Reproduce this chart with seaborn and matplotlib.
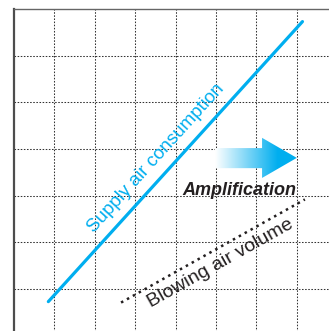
import numpy as np
import matplotlib
matplotlib.use("Agg")
import matplotlib.pyplot as plt
from matplotlib.patches import Polygon
from matplotlib.colors import LinearSegmentedColormap
import seaborn as sns

# data (grid units)
supply_x = [0.85, 7.14]
supply_y = [0.73, 6.73]
blow_x = [2.65, 7.20]
blow_y = [0.71, 2.92]
grid_x = [1, 2, 3, 4, 5, 6, 7]
grid_y = [1, 2, 3, 4, 5, 6]

CYAN = "#00aeef"
DARK = "#231f20"

sns.set_theme(style="white")
plt.rcParams["font.family"] = ["Liberation Sans", "DejaVu Sans"]

fig = plt.figure(figsize=(3.29, 3.31), dpi=100)
ax = fig.add_axes([14 / 329, -0.0142, 323.2 / 329, 0.987])
ax.set_xlim(0, 8)
ax.set_ylim(0, 7)

# dotted grid
for gx in grid_x:
    ax.axvline(gx, color="#333333", lw=0.75, ls=(0, (1.5, 1.5)), zorder=1)
for gy in grid_y:
    ax.axhline(gy, color="#333333", lw=0.75, ls=(0, (1.5, 1.5)), zorder=1)

sns.lineplot(x=supply_x, y=supply_y, ax=ax, color=CYAN, lw=2.3, zorder=3)
sns.lineplot(x=blow_x, y=blow_y, ax=ax, color=DARK, lw=1.8,
             ls=(0, (1, 1.7)), zorder=3)

# gradient arrow
arrow_pts = [(4.975, 3.59), (6.14, 3.59), (6.14, 3.38), (7.0, 3.81),
             (6.14, 4.24), (6.14, 4.02), (4.975, 4.02)]
poly = Polygon(arrow_pts, closed=True, facecolor="none", edgecolor="none")
ax.add_patch(poly)
cmap = LinearSegmentedColormap.from_list("grad", ["#ffffff", CYAN])
grad = np.clip(np.linspace(0, 1.3, 256), 0, 1).reshape(1, -1)
im = ax.imshow(grad, cmap=cmap, extent=[4.975, 7.0, 3.38, 4.24],
               aspect="auto", zorder=2, interpolation="bilinear")
im.set_clip_path(poly)

ax.text(3.60, 3.739, "Supply air consumption", color=CYAN, fontsize=13.5,
        rotation=47.8, rotation_mode="anchor", ha="center", va="baseline",
        zorder=4)
ax.text(5.156, 1.472, "Blowing air volume", color=DARK, fontsize=14,
        rotation=29.3, rotation_mode="anchor", ha="center", va="baseline",
        zorder=4)
ax.text(7.0, 3.01, "Amplification", color=DARK, fontsize=13,
        fontweight="bold", fontstyle="italic", ha="right", va="baseline",
        zorder=4)

ax.set_xticks([])
ax.set_yticks([])
for side in ["right", "bottom"]:
    ax.spines[side].set_visible(False)
ax.spines["left"].set_color("#4d4d4d")
ax.spines["left"].set_linewidth(1.6)
ax.spines["top"].set_color("#666666")
ax.spines["top"].set_linewidth(1.0)

fig.savefig("out.png", dpi=100)
